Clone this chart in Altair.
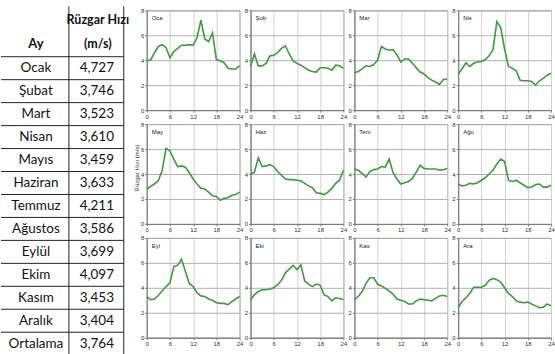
import altair as alt
import pandas as pd

# ---- table data ----
table_months = ["Ocak", "Şubat", "Mart", "Nisan", "Mayıs", "Haziran", "Temmuz",
                "Ağustos", "Eylül", "Ekim", "Kasım", "Aralık", "Ortalama"]
table_values = ["4,727", "3,746", "3,523", "3,610", "3,459", "3,633", "4,211",
                "3,586", "3,699", "4,097", "3,453", "3,404", "3,764"]

# ---- hourly wind speed (m/s) ----
hours = list(range(25))
month_abbr = ["Oca", "Şub", "Mar", "Nis", "May", "Haz", "Tem", "Ağu", "Eyl", "Eki", "Kas", "Ara"]
oca = [4.0, 4.0, 4.6, 5.1, 5.25, 5.0, 4.2, 4.7, 4.95, 5.2, 5.2, 5.25, 5.2, 5.8, 7.2, 5.7, 5.5, 6.2,
       4.05, 3.95, 3.8, 3.35, 3.3, 3.3, 3.55]
sub = [3.5, 4.5, 3.55, 3.55, 3.75, 4.35, 4.4, 4.6, 4.95, 5.15, 4.5, 3.95, 3.75, 3.6, 3.4, 3.2, 3.1,
       3.05, 3.4, 3.4, 3.35, 3.2, 3.6, 3.55, 3.35]
mar = [3.0, 3.1, 3.3, 3.55, 3.5, 3.65, 4.0, 5.1, 4.9, 4.8, 4.85, 4.45, 3.85, 4.1, 4.1, 3.75, 3.4,
       3.05, 2.9, 2.6, 2.4, 2.25, 2.05, 2.45, 2.5]
nis = [2.9, 3.3, 3.8, 3.5, 3.75, 3.85, 3.9, 4.05, 4.35, 4.85, 7.1, 6.6, 4.9, 3.5, 3.35, 3.15, 2.4,
       2.35, 2.35, 2.3, 2.0, 2.35, 2.55, 2.8, 2.95]
may = [2.8, 3.0, 3.2, 3.45, 4.3, 6.05, 5.85, 5.2, 4.6, 4.65, 4.55, 4.1, 3.6, 3.2, 2.85, 2.8, 2.55,
       2.25, 2.2, 1.9, 2.05, 2.1, 2.3, 2.35, 2.55]
haz = [4.0, 4.15, 5.3, 4.6, 4.65, 4.75, 4.6, 4.2, 3.9, 3.6, 3.55, 3.55, 3.5, 3.45, 3.25, 3.05, 2.9,
       2.5, 2.45, 2.35, 2.55, 2.85, 3.25, 3.5, 4.3]
tem = [4.4, 4.3, 4.05, 3.75, 4.2, 4.35, 4.4, 4.6, 4.55, 5.2, 4.1, 3.6, 3.2, 3.3, 3.4, 3.65, 4.15,
       4.7, 4.45, 4.4, 4.4, 4.4, 4.3, 4.35, 4.45]
agu = [3.2, 3.05, 3.1, 3.25, 3.2, 3.3, 3.5, 3.7, 4.0, 4.3, 4.8, 5.2, 5.0, 3.5, 3.4, 3.5, 3.3,
       3.1, 2.9, 2.95, 3.15, 3.2, 2.95, 2.95, 3.1]
eyl = [3.3, 3.05, 3.1, 3.4, 3.75, 4.1, 4.4, 5.7, 5.8, 6.3, 5.3, 4.35, 4.1, 3.6, 3.35, 3.3, 3.1,
       3.0, 2.8, 2.75, 2.75, 2.65, 2.9, 3.1, 3.3]
eki = [3.05, 3.45, 3.7, 3.85, 3.85, 3.9, 4.0, 4.25, 4.6, 5.2, 5.5, 5.8, 5.45, 5.85, 4.55, 4.3, 4.1,
       4.3, 4.2, 3.45, 3.3, 2.95, 3.2, 3.15, 3.05]
kas = [3.05, 3.3, 3.7, 4.35, 4.8, 4.8, 4.3, 4.15, 3.95, 3.75, 3.5, 3.1, 3.0, 2.9, 2.7, 2.7, 2.95,
       3.1, 3.05, 3.0, 2.95, 3.15, 3.35, 3.4, 3.3]
ara = [2.4, 2.9, 3.2, 3.55, 4.05, 4.05, 4.05, 4.2, 4.6, 4.75, 4.65, 4.45, 4.0, 3.55, 3.3, 2.95, 2.85,
       2.8, 2.85, 2.7, 2.55, 2.4, 2.45, 2.7, 2.55]
series = [oca, sub, mar, nis, may, haz, tem, agu, eyl, eki, kas, ara]

rows = []
for abbr, vals in zip(month_abbr, series):
    for h, v in zip(hours, vals):
        rows.append({"month": abbr, "hour": h, "speed": v})
df = pd.DataFrame(rows)

# ---- layout constants ----
GRID_TOP = 9
PANEL_W, PANEL_H = 93, 100
ROW_SP, COL_SP = 14, 11
TABLE_W, TITLE_W = 125, 21
TABLE_H = 345
ROW_PITCH, ROW0 = 23.0, 44.0
d0 = (GRID_TOP - ROW0) / ROW_PITCH
d1 = (GRID_TOP + TABLE_H - ROW0) / ROW_PITCH

FONT = "Lato"
FS = 13.5
no_frame = alt.ViewBackground(stroke="transparent")
panel_frame = alt.ViewBackground(stroke="#8a8a8a")

# ---- table ----
tdf = pd.DataFrame({"row": list(range(1, 14)), "ay": table_months, "val": table_values})
hdf = pd.DataFrame({"row": [-1.09, -0.04, -0.04], "txt": ["Rüzgar Hızı", "(m/s)", "Ay"],
                    "col": ["v", "v", "a"]})
ysc = alt.Scale(domain=[d0, d1], reverse=True, nice=False, zero=False)

tbase = alt.Chart(tdf)
t_ay = tbase.mark_text(font=FONT, fontSize=FS, color="#111").encode(
    y=alt.Y("row:Q", scale=ysc, axis=None), x=alt.value(35), text="ay:N")
t_val = tbase.mark_text(font=FONT, fontSize=FS, color="#111").encode(
    y=alt.Y("row:Q", scale=ysc, axis=None), x=alt.value(96), text="val:N")
t_lines = tbase.transform_calculate(edge="datum.row - 0.5").mark_rule(
    color="#222", strokeWidth=1).encode(
    y=alt.Y("edge:Q", scale=ysc, axis=None), x=alt.value(0), x2=alt.value(123))
hbase = alt.Chart(hdf)
h_v = hbase.transform_filter("datum.col == 'v'").mark_text(
    font=FONT, fontSize=12.5, fontWeight="bold", color="#111").encode(
    y=alt.Y("row:Q", scale=ysc, axis=None), x=alt.value(97), text="txt:N")
h_a = hbase.transform_filter("datum.col == 'a'").mark_text(
    font=FONT, fontSize=13, fontWeight="bold", color="#111").encode(
    y=alt.Y("row:Q", scale=ysc, axis=None), x=alt.value(35), text="txt:N")
vdf = pd.DataFrame({"k": ["mid"]})
v_mid = alt.Chart(vdf).mark_rule(color="#222", strokeWidth=1).encode(
    x=alt.value(68), y=alt.value(-4), y2=alt.value(TABLE_H))
v_right = alt.Chart(vdf).mark_rule(color="#222", strokeWidth=1).encode(
    x=alt.value(123), y=alt.value(-4), y2=alt.value(TABLE_H))
table = alt.layer(t_lines, v_mid, v_right, h_v, h_a, t_ay, t_val).properties(
    width=TABLE_W, height=TABLE_H, view=no_frame)

# ---- y-axis title ----
grid_h = 3 * PANEL_H + 2 * ROW_SP
ytitle = alt.Chart(pd.DataFrame({"t": ["Rüzgar Hızı (m/s)"]})).mark_text(
    angle=270, fontSize=6, font="Liberation Sans", color="#333").encode(
    text="t:N", x=alt.value(11), y=alt.value(158)).properties(
    width=TITLE_W, height=grid_h, view=no_frame)

# ---- small multiples ----
xax = alt.Axis(values=[0, 6, 12, 18, 24], title=None, labelFontSize=6, labelFont="Liberation Sans",
               labelColor="#333", tickSize=2, labelPadding=1, labelFlush=False,
               gridColor="#d0d0d0", domainColor="#777", tickColor="#777")
yax = alt.Axis(values=[0, 2, 4, 6, 8], title=None, labelFontSize=6, labelFont="Liberation Sans",
               labelColor="#333", tickSize=2, labelPadding=1,
               gridColor="#b0b0b0", domainColor="#777", tickColor="#777")


def panel(abbr):
    base = alt.Chart(df).transform_filter(alt.datum.month == abbr)
    line = base.mark_line(color="#3f9a3f", strokeWidth=1.6).encode(
        x=alt.X("hour:Q", scale=alt.Scale(domain=[0, 24], nice=False), axis=xax),
        y=alt.Y("speed:Q", scale=alt.Scale(domain=[0, 8], nice=False), axis=yax))
    label = base.transform_filter("datum.hour == 0").mark_text(
        align="left", baseline="top", fontSize=6, font="Liberation Sans", color="#222").encode(
        text="month:N", x=alt.value(5), y=alt.value(5))
    return alt.layer(line, label).properties(width=PANEL_W, height=PANEL_H, view=panel_frame)


grid = alt.concat(*[panel(m) for m in month_abbr], columns=4,
                  spacing={"row": ROW_SP, "column": COL_SP}, bounds="flush")

chart = alt.hconcat(table, ytitle, grid, spacing=0, bounds="flush").properties(
    padding={"left": 0, "top": 5, "right": 0, "bottom": 0}
).configure_view(stroke="transparent")

chart.save("out.html", embed_options={"renderer": "svg", "actions": False})
